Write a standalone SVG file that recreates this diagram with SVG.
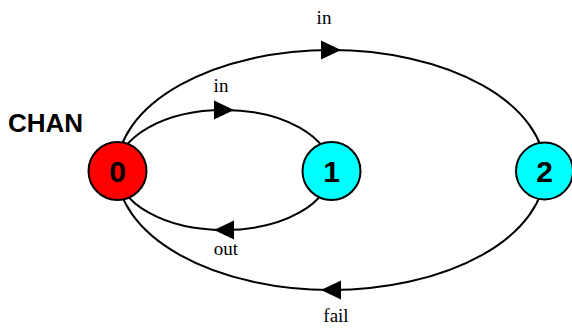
<svg xmlns="http://www.w3.org/2000/svg" width="572" height="330" viewBox="0 0 572 330">
<style>
.edge{fill:none;stroke:#000;stroke-width:2;marker-mid:url(#arr)}
.node{stroke:#000;stroke-width:2}
.num{font-family:"Liberation Sans",Arial,sans-serif;font-weight:bold;font-size:30px;text-anchor:middle;fill:#000}
.lbl{font-family:"Liberation Serif","Times New Roman",serif;font-size:19px;text-anchor:middle;fill:#000}
.title{font-family:"Liberation Sans",Arial,sans-serif;font-weight:bold;font-size:26px;fill:#000}
</style>
<defs>
<marker id="arr" markerUnits="userSpaceOnUse" markerWidth="20" markerHeight="20" refX="10" refY="9.5" orient="auto" viewBox="0 0 20 19">
<path d="M0,0 L20,9.5 L0,19 Z" fill="#000"/>
</marker>
</defs>
<rect width="572" height="330" fill="#fff"/>
<text class="title" x="8" y="132">CHAN</text>
<g id="connectors">
<path class="edge" d="M117,170 A214,120 0 0 1 331,50 A214,120 0 0 1 545,170"/>
<path class="edge" d="M545,170 A214,120 0 0 1 331,290 A214,120 0 0 1 117,170"/>
<path class="edge" d="M117,170 A107,60 0 0 1 224,110 A107,60 0 0 1 331,170"/>
<path class="edge" d="M331,170 A107,60 0 0 1 224,230 A107,60 0 0 1 117,170"/>
<text class="lbl" x="324" y="24">in</text>
<text class="lbl" x="221" y="92">in</text>
<text class="lbl" x="226" y="255">out</text>
<text class="lbl" x="336" y="322">fail</text>
</g>
<g id="node0">
<circle class="node" cx="117.5" cy="171" r="29" fill="#ff0000"/>
<text class="num" x="117.5" y="182">0</text>
</g>
<g id="node1">
<circle class="node" cx="331.5" cy="171" r="29" fill="#00ffff"/>
<text class="num" x="331.5" y="182">1</text>
</g>
<g id="node2">
<circle class="node" cx="544.5" cy="171" r="28.5" fill="#00ffff"/>
<text class="num" x="544.5" y="182">2</text>
</g>
</svg>
